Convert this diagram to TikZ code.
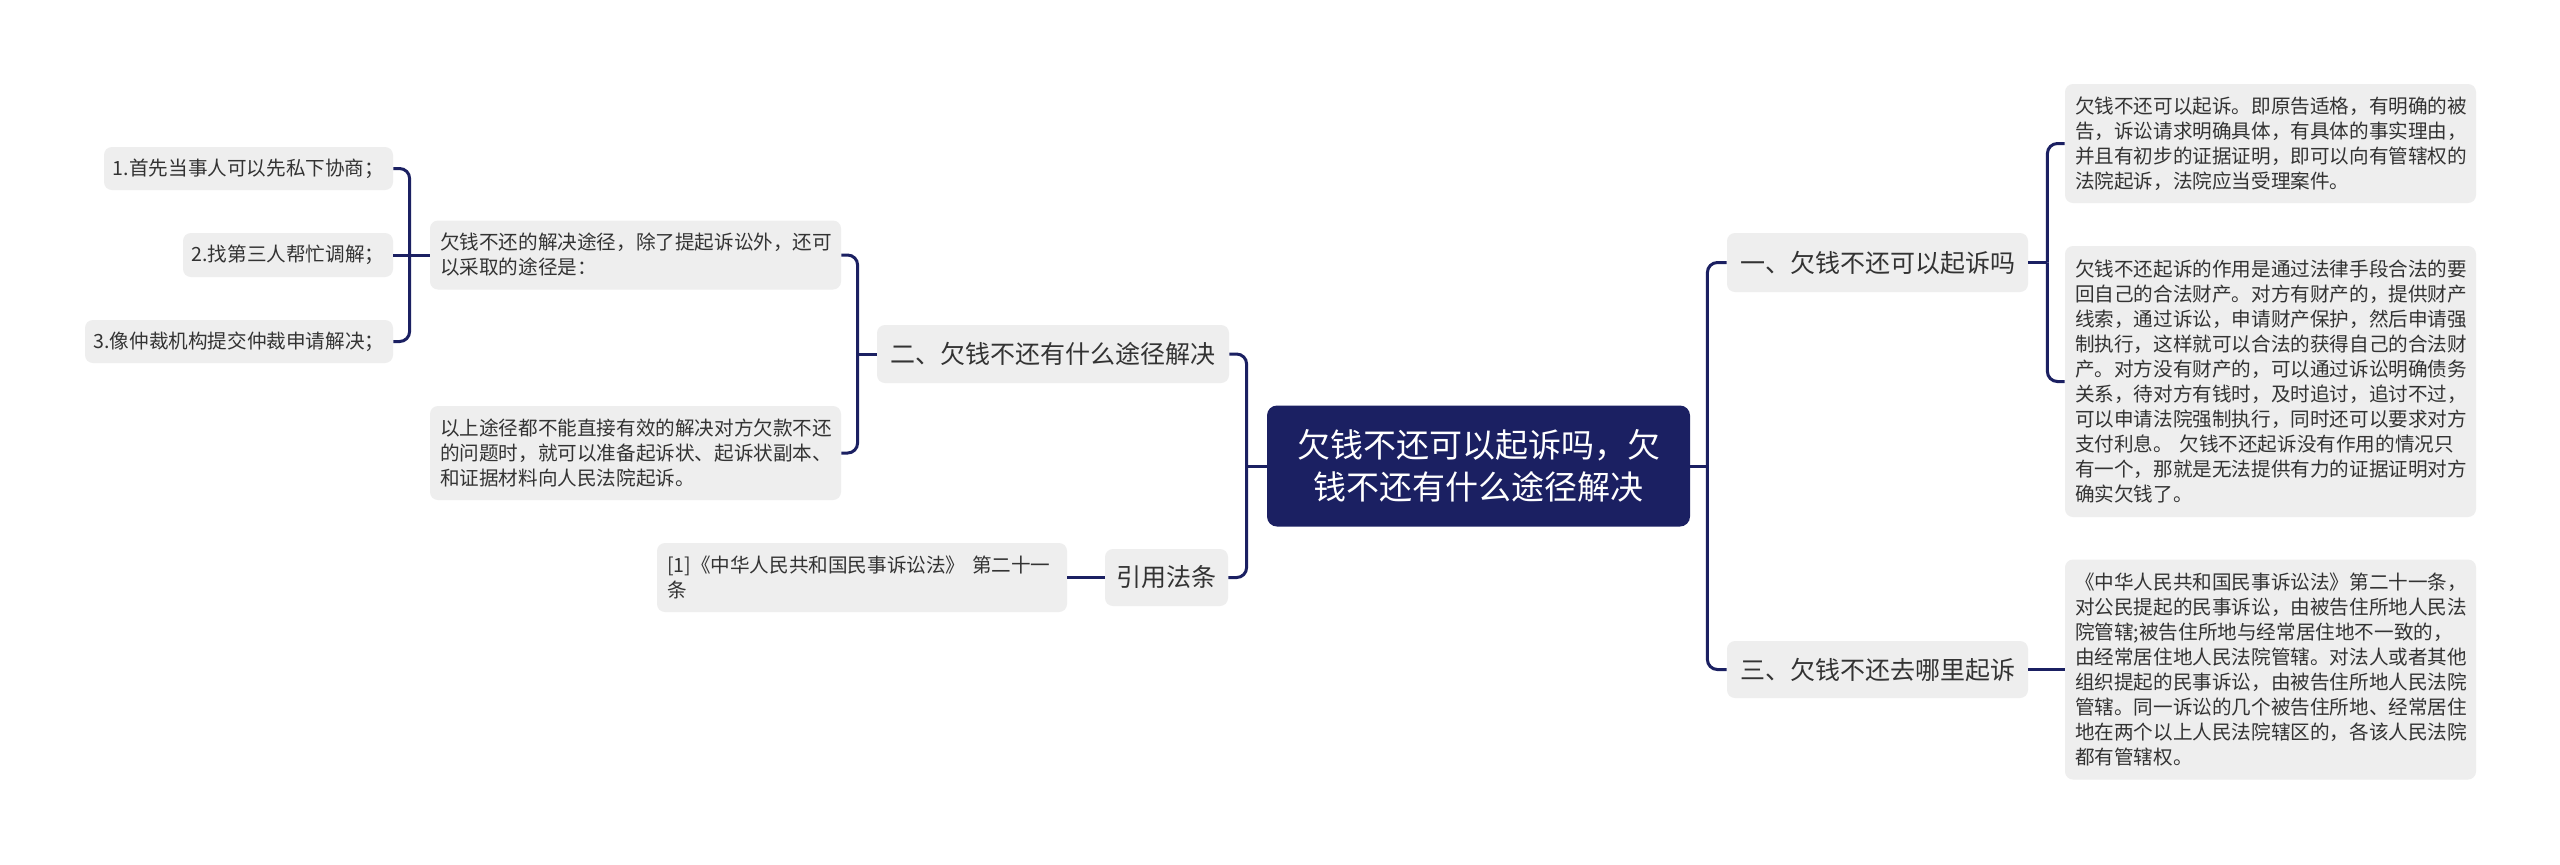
\documentclass[tikz,border=0pt]{standalone}
\usepackage{fontspec}
\setmainfont{Noto Sans CJK SC}
\usetikzlibrary{positioning}
\definecolor{navy}{RGB}{27,32,98}
\definecolor{boxgray}{RGB}{238,238,238}
\definecolor{txtgray}{RGB}{51,51,51}

\begin{document}
\begin{tikzpicture}[
    x=0.5pt, y=-0.5pt,
    link/.style={draw=navy, line width=1.5pt, rounded corners=5pt},
    rootbox/.style={fill=navy, rounded corners=5pt, inner sep=0pt, text=white, align=center,
        minimum width=211.5pt, minimum height=60.5pt, font=\fontsize{16.5pt}{21pt}\selectfont},
    topicbox/.style={fill=boxgray, rounded corners=4pt, inner sep=0pt, text=txtgray,
        font=\fontsize{12.5pt}{15pt}\selectfont},
    leafbox/.style={fill=boxgray, rounded corners=4pt, inner xsep=5pt, inner ysep=0pt, text=txtgray,
        align=left, text width=195.5pt, font=\fontsize{9.8pt}{12.5pt}\selectfont},
    stepitem/.style={fill=boxgray, rounded corners=4pt, inner sep=0pt, text=txtgray,
        minimum height=21.5pt, font=\fontsize{9.8pt}{12.5pt}\selectfont}
]
\useasboundingbox[fill=white] (0,0) rectangle (2560,864);
% Root
\node[rootbox] (root) at (1478.5,466) {欠钱不还可以起诉吗，欠\\钱不还有什么途径解决};
% Right topics
\node[topicbox, minimum width=150.5pt, minimum height=29.5pt] (h1) at (1877.5,262.5) {一、欠钱不还可以起诉吗};
\node[topicbox, minimum width=150.5pt, minimum height=28.5pt] (h3) at (1877.5,669.5) {三、欠钱不还去哪里起诉};
% Left topics
\node[topicbox, minimum width=176pt, minimum height=29pt] (b2) at (1053,354) {二、欠钱不还有什么途径解决};
\node[topicbox, minimum width=61.5pt, minimum height=28.5pt] (b3) at (1166.5,577.5) {引用法条};
% Right leaves
\node[leafbox, minimum height=59.5pt] (r1) at (2270.5,143.5) {欠钱不还可以起诉。即原告适格，有明确的被\\
告，诉讼请求明确具体，有具体的事实理由，\\
并且有初步的证据证明，即可以向有管辖权的\\
法院起诉，法院应当受理案件。};
\node[leafbox, minimum height=135.5pt] (r2) at (2270.5,381.5) {欠钱不还起诉的作用是通过法律手段合法的要\\
回自己的合法财产。对方有财产的，提供财产\\
线索，通过诉讼，申请财产保护，然后申请强\\
制执行，这样就可以合法的获得自己的合法财\\
产。对方没有财产的，可以通过诉讼明确债务\\
关系，待对方有钱时，及时追讨，追讨不过，\\
可以申请法院强制执行，同时还可以要求对方\\
支付利息。 欠钱不还起诉没有作用的情况只\\
有一个，那就是无法提供有力的证据证明对方\\
确实欠钱了。};
\node[leafbox, minimum height=110pt] (r3) at (2270.5,669.5) {《中华人民共和国民事诉讼法》第二十一条，\\
对公民提起的民事诉讼，由被告住所地人民法\\
院管辖;被告住所地与经常居住地不一致的，\\
由经常居住地人民法院管辖。对法人或者其他\\
组织提起的民事诉讼，由被告住所地人民法院\\
管辖。同一诉讼的几个被告住所地、经常居住\\
地在两个以上人民法院辖区的，各该人民法院\\
都有管辖权。};
% Left leaves
\node[leafbox, minimum height=34.5pt] (l1) at (635.5,255) {欠钱不还的解决途径，除了提起诉讼外，还可\\
以采取的途径是：};
\node[leafbox, minimum height=47pt] (l2) at (635.5,453) {以上途径都不能直接有效的解决对方欠款不还\\
的问题时，就可以准备起诉状、起诉状副本、\\
和证据材料向人民法院起诉。};
\node[leafbox, text width=195pt, minimum height=34.5pt] (cite) at (862,577.5) {[1]《中华人民共和国民事诉讼法》 第二十一\\
条};
% Ways
\node[stepitem, minimum width=144.5pt] (s1) at (248.5,168.5) {1.首先当事人可以先私下协商；};
\node[stepitem, minimum width=105pt, minimum height=22pt] (s2) at (288,255) {2.找第三人帮忙调解；};
\node[stepitem, minimum width=154pt] (s3) at (239,341.5) {3.像仲裁机构提交仲裁申请解决；};
% Links on the right
\draw[link] (root.east) -- ++(17,0) coordinate (jr0);
\draw[link] (jr0) |- (h1.west);
\draw[link] (jr0) |- (h3.west);
\draw[link] (h1.east) -- ++(19,0) coordinate (jh1);
\draw[link] (jh1) |- (r1.west);
\draw[link] (jh1) |- (r2.west);
\draw[link] (h3.east) -- (r3.west);
% Links on the left
\draw[link] (root.west) -- ++(-20,0) coordinate (jl0);
\draw[link] (jl0) |- (b2.east);
\draw[link] (jl0) |- (b3.east);
\draw[link] (b2.west) -- ++(-19,0) coordinate (jb2);
\draw[link] (jb2) |- (l1.east);
\draw[link] (jb2) |- (l2.east);
\draw[link] (b3.west) -- (cite.east);
\draw[link] (l1.west) -- ++(-20,0) coordinate (jl1);
\draw[link] (jl1) |- (s1.east);
\draw[link] (jl1) -- (s2.east);
\draw[link] (jl1) |- (s3.east);
\end{tikzpicture}
\end{document}
